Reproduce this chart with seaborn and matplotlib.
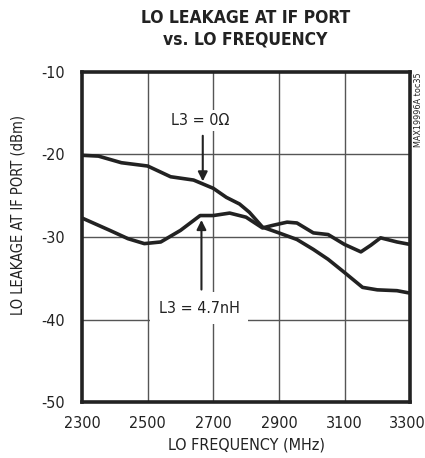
import matplotlib
matplotlib.use('Agg')
import matplotlib.pyplot as plt
import matplotlib.transforms as mtransforms
import seaborn as sns
import pandas as pd

# curve: L3 = 0 ohm
freq_0ohm = [2300, 2350, 2420, 2500, 2570, 2640, 2700, 2740, 2780, 2810, 2850,
             2900, 2955, 3005, 3050, 3100, 3155, 3200, 3260, 3300]
leak_0ohm = [-20.1, -20.2, -21.0, -21.4, -22.7, -23.1, -24.1, -25.2, -26.0, -27.0, -28.8,
             -29.5, -30.3, -31.5, -32.7, -34.3, -36.1, -36.4, -36.5, -36.8]

# curve: L3 = 4.7nH
freq_47nh = [2300, 2385, 2440, 2490, 2540, 2600, 2660, 2700, 2750, 2800, 2850,
             2880, 2925, 2955, 3005, 3050, 3100, 3150, 3180, 3210, 3260, 3300]
leak_47nh = [-27.7, -29.2, -30.2, -30.8, -30.6, -29.2, -27.4, -27.4, -27.1, -27.6, -28.9,
             -28.6, -28.2, -28.3, -29.5, -29.7, -30.9, -31.8, -31.0, -30.1, -30.6, -30.9]

x_ticks = [2300, 2500, 2700, 2900, 3100, 3300]
y_ticks = [-50, -40, -30, -20, -10]

df0 = pd.DataFrame({'freq': freq_0ohm, 'leak': leak_0ohm})
df1 = pd.DataFrame({'freq': freq_47nh, 'leak': leak_47nh})

sns.set_style('white')
plt.rcParams['font.family'] = ['DejaVu Sans']
plt.rcParams['font.stretch'] = 'condensed'
plt.rcParams['axes.unicode_minus'] = False

fig = plt.figure(figsize=(4.25, 4.58), dpi=100)
ax = fig.add_axes([0.193, 0.122, 0.772, 0.721])

for v in x_ticks[1:-1]:
    ax.axvline(v, color='#555555', lw=1.0, zorder=1)
for v in y_ticks[1:-1]:
    ax.axhline(v, color='#555555', lw=1.0, zorder=1)

sns.lineplot(data=df0, x='freq', y='leak', ax=ax, color='#222222', lw=2.6, zorder=3)
sns.lineplot(data=df1, x='freq', y='leak', ax=ax, color='#222222', lw=2.6, zorder=3)

ax.set_xlim(2300, 3300)
ax.set_ylim(-50, -10)
ax.set_xticks(x_ticks)
ax.set_yticks(y_ticks)
ax.tick_params(axis='both', labelsize=11.5, length=0, colors='#222222')
ax.tick_params(axis='x', pad=10)
ax.tick_params(axis='y', pad=12)
for s in ax.spines.values():
    s.set_linewidth(2.6)
    s.set_color('#222222')

# keep the last x tick label inside the figure
last = ax.get_xticklabels()[-1]
last.set_transform(last.get_transform() + mtransforms.ScaledTranslation(-3 / 100, 0, fig.dpi_scale_trans))

ax.set_xlabel('LO FREQUENCY (MHz)', fontsize=11.5, color='#222222', labelpad=5)
ax.set_ylabel('LO LEAKAGE AT IF PORT (dBm)', fontsize=10.5, color='#222222', labelpad=10)
ax.yaxis.set_label_coords(-0.172, 0.567)

fig.text(0.577, 0.937, 'LO LEAKAGE AT IF PORT\nvs. LO FREQUENCY', ha='center', va='center',
         fontsize=12.5, fontweight='bold', linespacing=1.25, color='#222222')

# annotations
ax.text(2660, -15.9, 'L3 = 0Ω', ha='center', va='center', fontsize=11.5, color='#222222',
        bbox=dict(facecolor='white', edgecolor='none', pad=2), zorder=4)
ax.annotate('', xy=(2668, -23.6), xytext=(2668, -17.4),
            arrowprops=dict(arrowstyle='-|>', color='#222222', lw=1.5, mutation_scale=14), zorder=4)
ax.text(2657, -38.6, 'L3 = 4.7nH', ha='center', va='center', fontsize=11.5, color='#222222',
        bbox=dict(facecolor='white', edgecolor='none', pad=6), zorder=4)
ax.annotate('', xy=(2664, -27.6), xytext=(2664, -36.7),
            arrowprops=dict(arrowstyle='-|>', color='#222222', lw=1.5, mutation_scale=14), zorder=5)

fig.text(0.984, 0.843, 'MAX19996A toc35', rotation=90, ha='center', va='top',
         fontsize=6.5, color='#222222')

fig.savefig('out.png', dpi=100)
